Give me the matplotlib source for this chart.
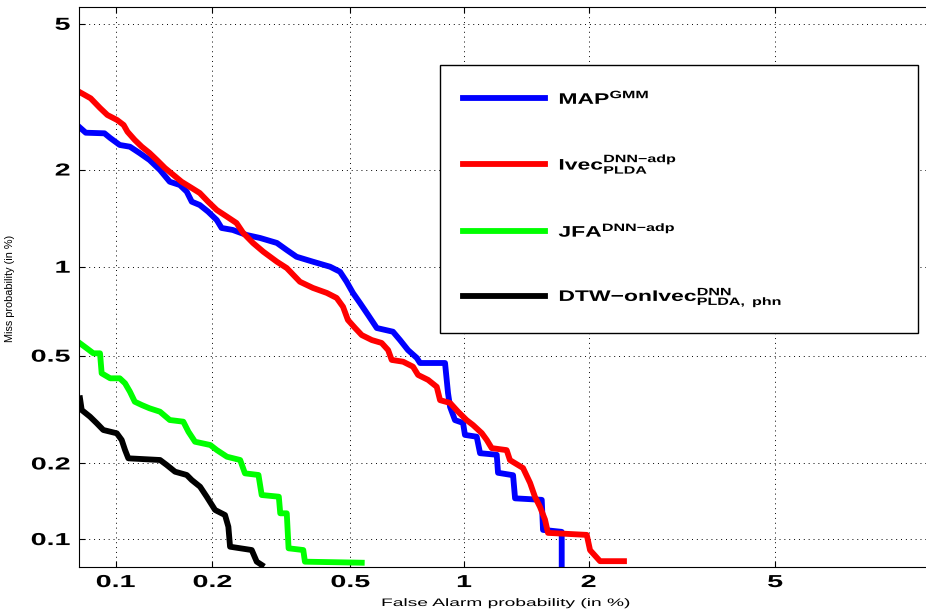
from statistics import NormalDist

import numpy as np
import matplotlib
matplotlib.use("Agg")
import matplotlib.pyplot as plt
from matplotlib.patheffects import AbstractPathEffect
from matplotlib.ticker import NullLocator
from matplotlib.transforms import Affine2D


# DET curves, False Alarm / Miss probabilities in %
map_gmm_fa = [0.076, 0.080, 0.092, 0.096, 0.103, 0.111, 0.119, 0.128, 0.138, 0.148,
              0.159, 0.167, 0.173, 0.183, 0.194, 0.206, 0.213, 0.230, 0.253, 0.277,
              0.310, 0.331, 0.353, 0.393, 0.439, 0.468, 0.488, 0.508, 0.531, 0.559,
              0.590, 0.652, 0.681, 0.715, 0.754, 0.769, 0.893, 0.909, 0.920, 0.947,
              0.993, 1.004, 1.075, 1.096, 1.206, 1.215, 1.323, 1.338, 1.552, 1.563,
              1.731, 1.731]
map_gmm_miss = [2.658, 2.556, 2.546, 2.469, 2.358, 2.331, 2.236, 2.133, 1.994, 1.840,
                1.799, 1.718, 1.602, 1.565, 1.493, 1.407, 1.329, 1.310, 1.263, 1.236,
                1.192, 1.132, 1.077, 1.038, 1.000, 0.963, 0.893, 0.820, 0.759, 0.691,
                0.624, 0.606, 0.567, 0.523, 0.491, 0.471, 0.471, 0.367, 0.327, 0.292,
                0.285, 0.257, 0.253, 0.219, 0.216, 0.184, 0.180, 0.146, 0.144, 0.109,
                0.107, 0.075]

ivec_fa = [0.076, 0.083, 0.089, 0.094, 0.101, 0.106, 0.109, 0.115, 0.121, 0.128,
           0.135, 0.143, 0.152, 0.161, 0.173, 0.183, 0.194, 0.206, 0.221, 0.236,
           0.247, 0.264, 0.283, 0.310, 0.331, 0.361, 0.393, 0.430, 0.458, 0.477,
           0.492, 0.515, 0.537, 0.572, 0.608, 0.633, 0.647, 0.694, 0.737, 0.760,
           0.807, 0.850, 0.867, 0.920, 0.964, 1.014, 1.052, 1.107, 1.139, 1.172,
           1.276, 1.300, 1.399, 1.455, 1.495, 1.537, 1.580, 1.606, 1.980, 2.015,
           2.124, 2.406]
ivec_miss = [3.322, 3.187, 2.998, 2.867, 2.776, 2.688, 2.573, 2.437, 2.331, 2.236,
             2.133, 2.021, 1.927, 1.840, 1.762, 1.702, 1.602, 1.511, 1.441, 1.377,
             1.282, 1.192, 1.118, 1.038, 0.990, 0.893, 0.852, 0.820, 0.789, 0.737,
             0.665, 0.624, 0.590, 0.567, 0.554, 0.523, 0.483, 0.476, 0.457, 0.427,
             0.410, 0.387, 0.346, 0.338, 0.314, 0.292, 0.280, 0.261, 0.246, 0.229,
             0.225, 0.206, 0.192, 0.168, 0.148, 0.135, 0.120, 0.106, 0.104, 0.090,
             0.081, 0.081]

jfa_fa = [0.0766, 0.0806, 0.0847, 0.089, 0.0901, 0.096, 0.103, 0.1071, 0.111, 0.115,
          0.121, 0.128, 0.138, 0.148, 0.163, 0.169, 0.177, 0.197, 0.206, 0.221,
          0.242, 0.250, 0.274, 0.280, 0.314, 0.317, 0.331, 0.335, 0.369, 0.373,
          0.537]
jfa_miss = [0.5524, 0.5306, 0.5096, 0.5096, 0.4328, 0.4153, 0.4153, 0.3985, 0.3715, 0.3415,
            0.3321, 0.3230, 0.3138, 0.2923, 0.2881, 0.2642, 0.2422, 0.2353, 0.2252, 0.2123,
            0.2062, 0.1831, 0.1804, 0.1505, 0.1482, 0.1272, 0.1272, 0.0916, 0.0901, 0.0806,
            0.0798]

dtw_fa = [0.0766, 0.0776, 0.0826, 0.0869, 0.0912, 0.1008, 0.1045, 0.1071, 0.1097, 0.1381,
          0.1449, 0.1537, 0.1670, 0.1730, 0.1834, 0.1921, 0.2036, 0.2181, 0.2232, 0.2258,
          0.2618, 0.2708, 0.2801]
dtw_miss = [0.3515, 0.3183, 0.3007, 0.2841, 0.2682, 0.2606, 0.2459, 0.2252, 0.2093, 0.2062,
            0.1972, 0.1858, 0.1804, 0.1724, 0.1623, 0.1482, 0.1312, 0.1252, 0.1123, 0.0930,
            0.0901, 0.0806, 0.0781]

labels = [
    "MAP$^{\\mathbf{GMM}}$",
    "Ivec$^{\\mathbf{DNN{-}adp}}_{\\mathbf{PLDA}}$",
    "JFA$^{\\mathbf{DNN{-}adp}}$",
    "DTW\u2212onIvec$^{\\mathbf{DNN}}_{\\mathbf{PLDA,\\ phn}}$",
]
colors = ["#0000ff", "#ff0000", "#00ff00", "#000000"]

ticks = [0.1, 0.2, 0.5, 1, 2, 5]
tick_labels = ["0.1", "0.2", "0.5", "1", "2", "5"]

_nd = NormalDist()


def probit(p):
    p = np.clip(np.asarray(p, dtype=float) / 100.0, 1e-12, 1 - 1e-12)
    return np.vectorize(_nd.inv_cdf, otypes=[float])(p)


def inv_probit(z):
    return np.vectorize(_nd.cdf, otypes=[float])(np.asarray(z, dtype=float)) * 100.0


class Stretch(AbstractPathEffect):
    """Widen text horizontally (the reference uses a very wide font)."""

    def __init__(self, sx, anchor="left"):
        super().__init__()
        self.sx = sx
        self.anchor = anchor

    def draw_path(self, renderer, gc, tpath, affine, rgbFace=None):
        ext = tpath.get_extents()
        if self.anchor == "center":
            px = (ext.x0 + ext.x1) / 2
        elif self.anchor == "right":
            px = ext.x1
        else:
            px = 0.0
        t = Affine2D().translate(-px, 0).scale(self.sx, 1).translate(px, 0)
        renderer.draw_path(gc, tpath, t + affine, rgbFace)


plt.rcParams["font.family"] = ["Liberation Sans", "DejaVu Sans"]
plt.rcParams["mathtext.fontset"] = "custom"
plt.rcParams["mathtext.bf"] = "Liberation Sans:bold"
plt.rcParams["mathtext.rm"] = "Liberation Sans"
plt.rcParams["mathtext.it"] = "Liberation Sans:italic"

W, H = 926, 612
fig = plt.figure(figsize=(W / 100, H / 100), dpi=100)
ax = fig.add_axes([79.3 / W, 1 - 566.7 / H, 1 - 79.3 / W, (566.7 - 7) / H])
ax.set_xscale("function", functions=(probit, inv_probit))
ax.set_yscale("function", functions=(probit, inv_probit))

curves = [(map_gmm_fa, map_gmm_miss), (ivec_fa, ivec_miss),
          (jfa_fa, jfa_miss), (dtw_fa, dtw_miss)]
for (fa, miss), color, label in zip(curves, colors, labels):
    ax.plot(fa, miss, color=color, lw=4.2, label=label)

ax.set_xlim(0.0762, 9.436)
ax.set_ylim(0.0768, 5.504)

ax.set_xticks(ticks, tick_labels, fontsize=12.5, fontweight="bold")
ax.set_yticks(ticks, tick_labels, fontsize=12.5, fontweight="bold")
ax.xaxis.set_minor_locator(NullLocator())
ax.yaxis.set_minor_locator(NullLocator())
ax.tick_params(direction="in", length=4, top=True, right=False, width=0.8)
ax.tick_params(axis="x", pad=6)
ax.tick_params(axis="y", pad=6.5)
for t in ax.get_xticklabels():
    t.set_path_effects([Stretch(1.65, "center")])
for t in ax.get_yticklabels():
    t.set_path_effects([Stretch(1.65, "right")])

ax.spines["right"].set_visible(False)
ax.grid(True, linestyle=(0, (1, 4)), color="k", lw=0.7)

ax.set_xlabel("False Alarm probability (in %)", fontsize=7.8)
ax.set_ylabel("Miss probability (in %)", fontsize=7.8)
ax.xaxis.set_label_coords(0.5047, -(598 - 566.7) / 559.7)
ax.yaxis.set_label_coords(-(79.3 - 15.3) / 846.7, 0.497)
ax.xaxis.label.set_path_effects([Stretch(1.77, "center")])

leg = ax.legend(
    loc="upper left",
    bbox_to_anchor=(440 / W, 1 - 331.7 / H, (918 - 440) / W, (331.7 - 65.3) / H),
    bbox_transform=fig.transFigure,
    mode="expand",
    borderaxespad=0,
    prop={"size": 11, "weight": "bold"},
    handlelength=5.4,
    handletextpad=0.85,
    borderpad=1.5,
    labelspacing=3.0,
    fancybox=False,
    framealpha=1,
    edgecolor="k",
)
leg.get_frame().set_linewidth(1.0)
for t in leg.get_texts():
    t.set_path_effects([Stretch(1.5, "left")])

fig.savefig("out.png", dpi=100)
